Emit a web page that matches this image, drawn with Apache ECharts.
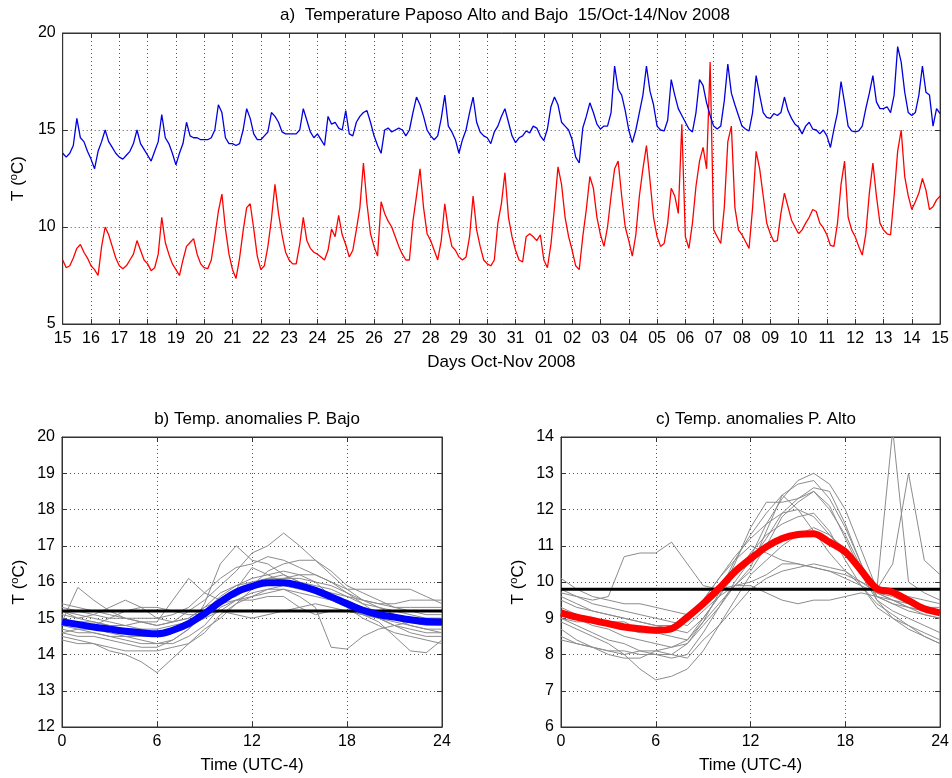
<!DOCTYPE html>
<html><head><meta charset="utf-8">
<script src="https://cdn.jsdelivr.net/npm/echarts@6/dist/echarts.min.js"></script>
<style>html,body{margin:0;padding:0;background:#fff}#c{width:952px;height:778px}</style>
</head><body><div id="c"></div>
<script>
// ---------- DATA ----------
// Panel a: day tick labels (15 Oct .. 15 Nov)
const dayLabels = ['15','16','17','18','19','20','21','22','23','24','25','26','27','28','29','30','31',
  '01','02','03','04','05','06','07','08','09','10','11','12','13','14','15'];
const samplesPerDay = 8; // one value every 3 hours

// Paposo Bajo (blue), 3-hourly from 15 Oct 00h
const bajoSeries = [
 13.8,13.6,13.8,14.2,15.6,14.6,14.4,13.9,
 13.5,13.0,13.9,14.4,15.0,14.4,14.1,13.8,
 13.6,13.5,13.7,13.9,14.3,15.0,14.3,14.0,
 13.7,13.4,13.9,14.4,15.8,14.6,14.3,13.8,
 13.2,13.8,14.3,15.4,14.7,14.6,14.6,14.5,
 14.5,14.5,14.6,15.0,16.3,15.9,14.6,14.3,
 14.3,14.2,14.3,15.0,16.1,15.6,14.8,14.5,
 14.5,14.7,14.9,15.9,15.7,15.4,14.9,14.8,
 14.8,14.8,14.8,15.0,16.1,15.5,14.9,14.6,
 14.8,14.5,14.2,15.7,15.3,15.4,15.1,15.0,
 16.0,14.8,14.7,15.4,15.7,15.9,16.0,15.4,
 14.7,14.2,13.8,15.0,15.1,14.9,15.0,15.1,
 15.0,14.7,15.0,15.9,16.7,16.3,15.7,15.0,
 14.7,14.5,14.7,15.6,16.8,15.2,14.9,14.5,
 13.8,14.5,15.0,15.9,16.7,15.4,14.9,14.7,
 14.6,14.3,14.9,15.2,15.7,16.1,15.4,14.7,
 14.35,14.6,14.7,14.95,14.85,15.2,15.1,14.7,
 14.45,15.05,16.2,16.7,16.3,15.4,15.2,15.0,
 14.5,13.6,13.3,15.1,15.7,16.4,15.9,15.3,
 15.05,15.2,15.2,15.9,18.3,17.1,16.8,16.0,
 15.0,14.35,15.0,15.9,16.8,18.3,17.0,16.3,
 15.2,15.0,14.95,15.5,17.6,16.8,16.1,15.75,
 15.4,15.05,14.9,15.9,17.6,17.3,16.4,15.75,
 15.2,15.05,15.2,16.5,18.4,16.9,16.3,15.75,
 15.2,15.05,14.95,15.9,17.8,16.8,15.9,15.65,
 15.6,15.85,15.75,15.9,16.7,16.0,15.6,15.3,
 15.15,14.8,15.2,15.4,15.05,15.0,14.8,15.0,
 14.7,14.1,15.05,15.9,17.5,16.4,15.2,14.95,
 14.9,14.95,15.2,16.1,16.9,17.8,16.45,16.1,
 16.1,16.2,15.9,16.8,19.3,18.5,16.95,15.9,
 15.75,15.9,16.8,18.3,16.95,16.8,15.2,16.1,
 15.85
];
// Paposo Alto (red), 3-hourly from 15 Oct 00h
const altoSeries = [
 8.3,7.9,8.0,8.4,8.9,9.1,8.7,8.4,
 8.0,7.8,7.5,9.0,10.0,9.6,9.0,8.4,
 8.0,7.85,8.0,8.3,8.6,9.3,8.8,8.3,
 8.1,7.75,7.9,8.6,10.5,9.2,8.6,8.1,
 7.8,7.5,8.3,9.0,9.2,9.4,8.6,8.1,
 7.9,7.85,8.3,9.5,10.8,11.7,9.9,8.6,
 7.8,7.35,8.4,9.8,11.0,11.2,9.9,8.5,
 7.8,8.0,9.0,10.4,12.2,10.7,9.6,8.7,
 8.3,8.1,8.1,9.1,10.5,9.3,8.9,8.7,
 8.6,8.45,8.3,8.8,9.9,9.5,10.6,9.6,
 9.1,8.45,8.8,9.85,11.0,13.3,11.2,9.65,
 9.0,8.5,11.3,10.7,10.3,10.0,9.5,9.0,
 8.6,8.3,8.3,10.3,11.6,13.0,11.0,9.65,
 9.3,8.8,8.3,9.3,11.2,9.85,9.0,8.8,
 8.45,8.3,8.45,9.5,11.6,9.85,9.0,8.3,
 8.1,8.0,8.3,10.2,11.2,12.8,10.5,9.5,
 8.8,8.3,8.2,9.5,9.65,9.5,9.3,9.6,
 8.3,7.9,9.1,11.0,13.1,12.2,10.5,9.5,
 8.8,8.0,7.8,9.5,10.9,12.6,12.0,10.5,
 9.6,9.0,10.0,11.6,13.0,13.4,11.6,10.0,
 9.3,8.5,9.6,11.6,13.0,14.2,12.4,10.5,
 9.5,9.0,9.15,10.2,12.0,11.6,10.7,15.3,
 9.5,8.9,10.2,12.1,13.4,14.1,13.0,18.5,
 9.85,9.5,9.15,11.0,14.4,15.2,11.0,9.85,
 9.6,9.25,8.9,11.0,13.9,13.0,11.6,10.2,
 9.65,9.25,9.3,10.7,11.75,11.05,10.35,10.0,
 9.65,9.85,10.2,10.5,10.9,10.8,10.2,9.95,
 9.6,9.05,9.0,10.2,12.2,13.4,10.5,9.85,
 9.5,9.0,8.55,9.65,11.75,13.3,11.6,10.2,
 9.85,9.65,9.6,11.6,13.9,15.0,12.6,11.6,
 10.9,11.3,11.75,12.5,11.9,10.9,11.05,11.4,
 11.6
];

// Panels b, c: hours 0..24
const hours = [0,1,2,3,4,5,6,7,8,9,10,11,12,13,14,15,16,17,18,19,20,21,22,23,24];
const hourTicks = [0,6,12,18,24];

// b) P. Bajo daily curves
const bajoDays = [
 [15.4,15.3,15.2,15.1,15.0,15.0,15.0,15.1,15.3,15.7,16.1,16.4,16.5,16.7,16.6,16.4,16.2,16.0,15.7,15.5,15.4,15.3,15.3,15.3,15.3],
 [14.9,15.85,15.5,15.2,15.0,14.9,14.8,14.9,15.2,15.5,15.9,16.3,16.8,17.0,17.35,17.0,16.6,16.2,15.8,15.5,15.3,15.1,15.0,14.9,14.8],
 [14.6,14.5,14.5,14.4,14.3,14.2,14.2,14.4,14.7,15.1,15.4,15.5,15.6,15.7,15.8,15.6,15.3,14.2,14.15,14.5,14.7,14.8,14.9,15.0,15.0],
 [15.1,15.0,15.1,15.3,15.5,15.3,15.0,14.9,15.0,15.3,15.5,15.8,16.4,16.2,16.0,15.9,15.8,15.7,15.6,15.5,15.4,15.4,15.5,15.5,15.5],
 [14.4,14.3,14.3,14.1,14.0,13.8,13.5,13.9,14.3,14.7,15.0,15.4,15.8,16.0,16.1,16.1,16.0,15.6,15.3,15.1,14.9,14.5,14.1,14.05,14.4],
 [15.2,15.0,14.9,14.8,14.8,14.9,14.9,15.5,16.1,15.7,15.5,15.6,15.9,16.1,16.2,16.0,15.9,15.8,15.6,15.4,15.3,15.2,15.1,15.0,15.0],
 [14.7,14.6,14.6,14.5,14.4,14.3,14.3,14.4,14.7,15.4,16.5,17.0,16.6,16.5,16.2,16.0,15.8,15.6,15.4,15.3,15.2,15.0,14.8,14.7,14.7],
 [14.8,14.7,14.6,14.5,14.5,14.4,14.3,14.3,14.5,14.8,15.3,15.5,15.5,15.6,15.6,15.3,15.1,15.2,15.2,15.1,15.0,14.8,14.6,14.5,14.5],
 [15.3,15.2,15.1,15.0,15.0,14.9,14.8,14.9,15.0,15.3,15.7,15.9,16.0,16.1,16.1,16.2,16.2,16.0,15.8,15.8,15.8,15.8,15.8,15.6,15.4],
 [14.5,14.4,14.3,14.2,14.1,14.1,14.1,14.2,14.3,14.6,15.1,15.4,15.6,15.8,15.9,15.8,15.7,15.5,15.3,15.0,14.8,14.6,14.5,14.4,14.3],
 [15.0,14.9,14.9,14.8,14.7,14.7,14.7,14.8,14.9,15.2,15.6,15.9,16.1,16.2,16.3,16.2,16.0,15.9,15.7,15.4,15.1,15.0,14.9,14.8,14.8],
 [14.8,14.8,14.8,15.0,15.2,15.3,15.3,15.2,15.1,15.1,15.2,15.1,15.0,15.1,15.2,15.3,15.4,15.3,15.2,15.1,15.0,14.9,14.8,14.7,14.6],
 [15.2,15.1,15.0,14.9,14.8,14.7,14.6,14.7,14.8,15.0,15.4,15.7,15.9,16.3,16.5,16.6,16.6,16.3,15.9,15.7,15.5,15.3,15.2,15.1,15.1],
 [14.6,14.7,14.7,14.6,14.5,14.5,14.5,14.6,14.8,15.0,15.2,15.5,15.7,15.8,15.8,15.7,15.6,15.5,15.5,15.3,15.0,14.8,14.7,14.6,14.6]
];
const bajoMeanCycle = [14.9,14.83,14.76,14.7,14.64,14.6,14.57,14.67,14.85,15.13,15.45,15.72,15.88,15.98,15.98,15.9,15.77,15.59,15.4,15.22,15.1,15.03,14.96,14.91,14.9];
const bajoMean = 15.2;

// c) P. Alto daily curves
const altoDays = [
 [9.3,9.1,9.0,8.9,8.9,8.7,8.6,8.5,8.4,8.9,9.4,9.9,10.3,11.0,11.8,12.2,12.5,12.0,11.3,10.4,9.6,9.4,9.2,9.1,9.0],
 [10.1,9.8,9.6,9.5,9.4,9.4,9.3,9.2,9.1,9.4,9.8,10.2,10.7,11.6,12.3,12.8,13.0,12.7,12.0,10.9,9.8,9.7,9.6,9.5,9.4],
 [8.9,8.7,8.5,8.3,8.0,7.6,7.3,7.4,7.6,8.1,8.8,9.5,10.2,10.6,11.0,11.3,11.5,11.3,10.9,10.2,9.5,9.2,9.0,8.8,8.6],
 [9.7,9.6,9.5,9.6,10.7,10.8,10.8,11.1,10.5,9.9,9.8,9.9,10.0,10.2,10.5,10.5,10.4,10.3,10.1,9.9,9.7,9.6,9.4,9.3,9.2],
 [9.0,8.8,8.6,8.4,8.3,8.1,8.0,8.0,8.3,8.8,9.3,9.9,10.4,11.4,12.4,12.7,12.8,12.3,11.5,10.5,9.6,9.4,9.3,9.2,9.1],
 [8.5,8.3,8.2,8.1,8.0,8.1,8.1,8.0,7.9,8.4,8.8,9.3,9.8,10.1,10.3,10.4,10.5,10.4,10.3,10.0,9.8,14.2,10.0,9.7,9.5],
 [9.5,9.3,9.2,9.1,9.0,8.9,8.8,8.7,8.6,9.0,9.6,10.5,11.5,12.2,12.2,12.3,12.5,12.1,11.2,10.3,9.8,10.5,13.0,10.6,10.2],
 [8.7,8.4,8.2,8.0,7.9,7.9,8.1,8.2,8.4,9.0,9.6,10.2,10.8,11.3,11.6,11.8,11.9,11.4,10.6,9.9,9.3,9.0,8.8,8.6,8.4],
 [9.8,9.6,9.4,9.3,9.2,9.1,9.0,8.9,8.8,9.2,9.6,9.9,9.9,9.7,9.5,9.4,9.5,9.5,9.6,9.7,9.6,9.5,9.4,9.3,9.3],
 [9.2,9.0,8.8,8.7,8.5,8.4,8.3,8.2,8.3,8.9,9.7,10.6,11.3,11.9,12.4,12.0,11.4,10.8,10.3,9.9,9.4,9.1,8.8,8.5,8.3],
 [9.6,9.4,9.2,9.1,9.0,8.9,8.8,8.8,9.0,9.5,10.1,10.6,11.0,10.8,10.6,10.5,10.4,10.3,10.2,10.0,9.7,9.5,9.3,9.2,9.1],
 [8.4,8.3,8.2,8.1,8.1,8.0,8.0,7.9,8.0,8.6,9.3,10.0,10.6,11.2,11.9,12.3,12.6,12.5,11.6,10.5,9.5,9.0,8.7,8.5,8.3],
 [9.0,8.9,8.9,8.8,8.7,8.6,8.6,8.7,9.0,9.5,10.1,10.7,11.2,11.6,11.9,12.0,11.8,11.3,10.8,10.2,9.7,9.5,9.3,9.1,9.0]
];
const altoMeanCycle = [9.15,9.03,8.94,8.85,8.76,8.71,8.67,8.71,9.03,9.4,9.82,10.28,10.64,10.97,11.2,11.31,11.33,11.1,10.83,10.32,9.82,9.72,9.49,9.26,9.15];
const altoMean = 9.8;

// ---------- CHART ----------
const FONT = 'Liberation Sans';
const black = '#000';
const boxColor = '#333';
const gridLine = {show:true, lineStyle:{color:'#555', width:1, type:[1,3]}};
const yName = '{n|T (}{s|o}{n|C)}';
const yNameStyle = {color:black, fontFamily:FONT, rich:{
  n:{fontSize:17, fontFamily:FONT, color:black, lineHeight:21},
  s:{fontSize:11, fontFamily:FONT, color:black, verticalAlign:'top', lineHeight:21}}};

function mainX(gi, min, max, interval, fmt, name, gap){
  return {type:'value', gridIndex:gi, min, max, interval, position:'bottom',
    axisLine:{show:true, onZero:false, lineStyle:{color:boxColor, width:1}},
    axisTick:{show:true, inside:true, length:5, lineStyle:{color:boxColor}},
    axisLabel:{color:black, fontSize:16, fontFamily:FONT, margin:7, showMinLabel:true, showMaxLabel:true, formatter:fmt},
    splitLine:gridLine, name, nameLocation:'middle', nameGap:gap,
    nameTextStyle:{color:black, fontSize:17, fontFamily:FONT}};
}
function mirrorX(gi, min, max, interval){
  return {type:'value', gridIndex:gi, min, max, interval, position:'top',
    axisLine:{show:true, onZero:false, lineStyle:{color:boxColor, width:1}},
    axisTick:{show:true, inside:true, length:5, lineStyle:{color:boxColor}},
    axisLabel:{show:false}, splitLine:{show:false}};
}
function mainY(gi, min, max, interval, gap){
  return {type:'value', gridIndex:gi, min, max, interval, position:'left',
    axisLine:{show:true, onZero:false, lineStyle:{color:boxColor, width:1}},
    axisTick:{show:true, inside:true, length:5, lineStyle:{color:boxColor}},
    axisLabel:{color:black, fontSize:16, fontFamily:FONT, margin:7, showMinLabel:true, showMaxLabel:true},
    splitLine:gridLine, name:yName, nameLocation:'middle', nameGap:gap, nameRotate:90,
    nameTextStyle:yNameStyle};
}
function mirrorY(gi, min, max, interval){
  return {type:'value', gridIndex:gi, min, max, interval, position:'right',
    axisLine:{show:true, onZero:false, lineStyle:{color:boxColor, width:1}},
    axisTick:{show:true, inside:true, length:5, lineStyle:{color:boxColor}},
    axisLabel:{show:false}, splitLine:{show:false}};
}

const series = [];
// panel a
series.push({type:'line', xAxisIndex:0, yAxisIndex:0, showSymbol:false, symbol:'none',
  data: altoSeries.map((v,i)=>[i/samplesPerDay, v]), lineStyle:{color:'#ff0000', width:1.3}, z:3});
series.push({type:'line', xAxisIndex:0, yAxisIndex:0, showSymbol:false, symbol:'none',
  data: bajoSeries.map((v,i)=>[i/samplesPerDay, v]), lineStyle:{color:'#0000e0', width:1.3}, z:3});
// panel b
bajoDays.forEach(d=>series.push({type:'line', xAxisIndex:1, yAxisIndex:1, symbol:'none',
  data:d.map((v,i)=>[hours[i], v]), lineStyle:{color:'#8c8c8c', width:1}, z:2}));
series.push({type:'line', xAxisIndex:1, yAxisIndex:1, symbol:'none',
  data:[[hours[0], bajoMean],[hours[hours.length-1], bajoMean]], lineStyle:{color:black, width:3}, z:3});
series.push({type:'line', xAxisIndex:1, yAxisIndex:1, symbol:'none', smooth:0.4,
  data:bajoMeanCycle.map((v,i)=>[hours[i], v]), lineStyle:{color:'#0000ff', width:7}, z:4});
// panel c
altoDays.forEach(d=>series.push({type:'line', xAxisIndex:2, yAxisIndex:2, symbol:'none',
  data:d.map((v,i)=>[hours[i], v]), lineStyle:{color:'#8c8c8c', width:1}, z:2}));
series.push({type:'line', xAxisIndex:2, yAxisIndex:2, symbol:'none',
  data:[[hours[0], altoMean],[hours[hours.length-1], altoMean]], lineStyle:{color:black, width:3}, z:3});
series.push({type:'line', xAxisIndex:2, yAxisIndex:2, symbol:'none', smooth:0.3,
  data:altoMeanCycle.map((v,i)=>[hours[i], v]), lineStyle:{color:'#ff0000', width:7}, z:4});

const titleStyle = {fontSize:17, fontWeight:'normal', color:black, fontFamily:FONT};
const option = {
  backgroundColor:'#fff',
  animation:false,
  title:[
    {text:'a)  Temperature Paposo Alto and Bajo  15/Oct-14/Nov 2008', left:500, top:2, textAlign:'center', textStyle:titleStyle},
    {text:'b) Temp. anomalies P. Bajo', left:252, top:406, textAlign:'center', textStyle:titleStyle},
    {text:'c) Temp. anomalies P. Alto', left:751, top:406, textAlign:'center', textStyle:titleStyle}
  ],
  grid:[
    {left:62, top:33, width:879, height:291, show:true, borderColor:boxColor, borderWidth:1},
    {left:62, top:437, width:380, height:290, show:true, borderColor:boxColor, borderWidth:1},
    {left:561, top:437, width:380, height:290, show:true, borderColor:boxColor, borderWidth:1}
  ],
  xAxis:[
    mainX(0, 0, dayLabels.length-1, 1, v=>dayLabels[Math.round(v)], 'Days Oct-Nov 2008', 30),
    mainX(1, hourTicks[0], hourTicks[hourTicks.length-1], 6, null, 'Time (UTC-4)', 30),
    mainX(2, hourTicks[0], hourTicks[hourTicks.length-1], 6, null, 'Time (UTC-4)', 30),
    mirrorX(0, 0, dayLabels.length-1, 1),
    mirrorX(1, 0, 24, 6),
    mirrorX(2, 0, 24, 6)
  ],
  yAxis:[
    mainY(0, 5, 20, 5, 32),
    mainY(1, 12, 20, 1, 32),
    mainY(2, 6, 14, 1, 32),
    mirrorY(0, 5, 20, 5),
    mirrorY(1, 12, 20, 1),
    mirrorY(2, 6, 14, 1)
  ],
  series
};
const chart = echarts.init(document.getElementById('c'), null, {renderer:'canvas'});
chart.setOption(option);
</script></body></html>
